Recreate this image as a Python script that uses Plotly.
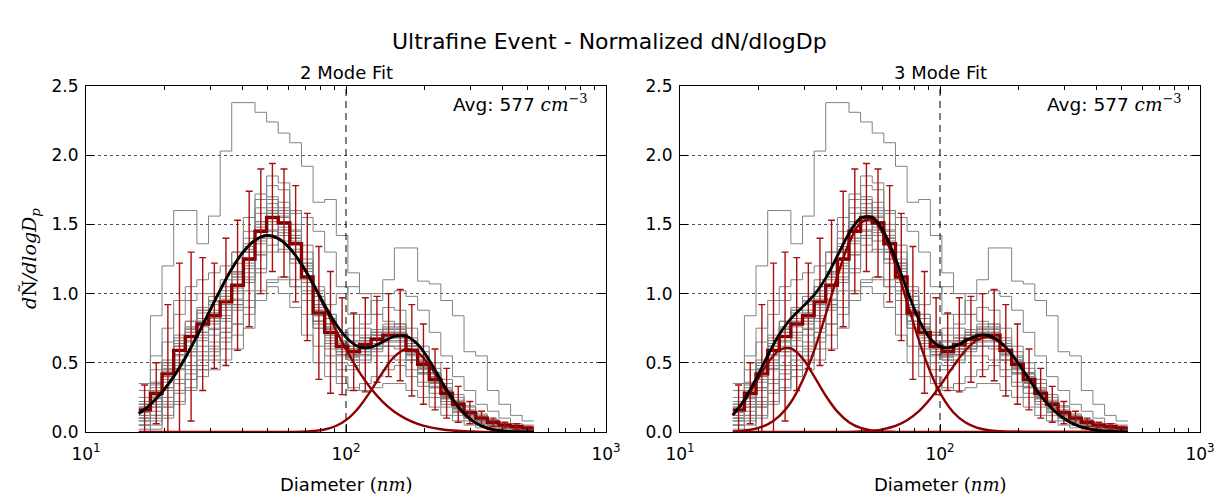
import math
import plotly.graph_objects as go

# ---------------- data ----------------
bin_edges_nm = [15.96, 17.69, 19.61, 21.74, 24.09, 26.70, 29.60, 32.81, 36.35, 40.30,
                44.67, 49.51, 54.87, 60.80, 67.41, 74.71, 82.79, 91.78, 101.7, 112.7,
                124.9, 138.5, 153.5, 170.1, 188.6, 209.0, 231.6, 256.8, 284.5, 315.4,
                349.6, 387.4, 429.5, 475.9, 527.6]

mean_norm = [0.16, 0.28, 0.42, 0.59, 0.69, 0.78, 0.84, 0.94, 1.06, 1.25,
             1.45, 1.55, 1.51, 1.36, 1.12, 0.86, 0.72, 0.62, 0.58, 0.63,
             0.67, 0.70, 0.70, 0.59, 0.49, 0.38, 0.28, 0.20, 0.14, 0.10,
             0.07, 0.05, 0.04, 0.03]
std_norm = [0.18, 0.22, 0.50, 0.63, 0.61, 0.48, 0.38, 0.46, 0.47, 0.49,
            0.45, 0.39, 0.39, 0.42, 0.46, 0.48, 0.44, 0.35, 0.28, 0.34,
            0.31, 0.30, 0.33, 0.33, 0.29, 0.22, 0.18, 0.13, 0.08, 0.05,
            0.03, 0.02, 0.02, 0.01]

sample_01 = [0.30, 0.84, 1.20, 1.60, 1.60, 1.36, 1.56, 2.03, 2.38, 2.38, 2.31, 2.24, 2.16, 2.09, 1.92, 1.66, 1.68, 1.42, 1.15, 1.00, 0.85, 0.80, 0.75, 0.62, 0.50, 0.40, 0.28, 0.20, 0.14, 0.10, 0.06, 0.04, 0.03, 0.02]
sample_02 = [0.05, 0.12, 0.20, 0.30, 0.38, 0.45, 0.52, 0.60, 0.70, 0.85, 1.00, 1.10, 1.12, 1.05, 0.95, 0.90, 0.92, 1.00, 1.05, 1.00, 1.00, 1.10, 1.33, 1.33, 1.09, 1.07, 0.95, 0.84, 0.58, 0.55, 0.30, 0.20, 0.12, 0.08]
sample_03 = [0.00, 0.05, 0.12, 0.22, 0.30, 0.40, 0.45, 0.52, 0.60, 0.75, 0.95, 1.05, 1.00, 0.90, 0.70, 0.50, 0.40, 0.35, 0.30, 0.35, 0.40, 0.45, 0.48, 0.40, 0.33, 0.25, 0.18, 0.12, 0.08, 0.05, 0.03, 0.02, 0.01, 0.00]
sample_04 = [0.20, 0.35, 0.50, 0.68, 0.80, 0.90, 0.98, 1.10, 1.30, 1.55, 1.72, 1.70, 1.55, 1.30, 1.00, 0.75, 0.60, 0.50, 0.48, 0.52, 0.58, 0.62, 0.60, 0.52, 0.42, 0.32, 0.22, 0.15, 0.10, 0.07, 0.05, 0.03, 0.02, 0.01]
sample_05 = [0.10, 0.20, 0.32, 0.48, 0.58, 0.68, 0.75, 0.82, 0.92, 1.08, 1.28, 1.42, 1.48, 1.42, 1.25, 1.02, 0.85, 0.72, 0.65, 0.68, 0.72, 0.74, 0.72, 0.62, 0.52, 0.42, 0.30, 0.22, 0.15, 0.10, 0.07, 0.05, 0.03, 0.02]
sample_06 = [0.35, 0.55, 0.75, 0.95, 1.05, 1.10, 1.15, 1.20, 1.30, 1.40, 1.50, 1.45, 1.30, 1.10, 0.85, 0.62, 0.50, 0.45, 0.45, 0.50, 0.55, 0.55, 0.52, 0.45, 0.36, 0.28, 0.20, 0.14, 0.10, 0.06, 0.04, 0.03, 0.02, 0.01]
sample_07 = [0.15, 0.25, 0.40, 0.55, 0.65, 0.72, 0.80, 0.92, 1.05, 1.22, 1.40, 1.58, 1.60, 1.45, 1.20, 0.92, 0.75, 0.62, 0.55, 0.58, 0.62, 0.68, 0.68, 0.58, 0.48, 0.36, 0.26, 0.18, 0.12, 0.08, 0.06, 0.04, 0.03, 0.02]
sample_08 = [0.08, 0.15, 0.25, 0.38, 0.48, 0.58, 0.65, 0.75, 0.88, 1.02, 1.18, 1.30, 1.32, 1.25, 1.08, 0.88, 0.78, 0.72, 0.70, 0.78, 0.85, 0.90, 0.88, 0.75, 0.62, 0.50, 0.38, 0.27, 0.19, 0.13, 0.09, 0.06, 0.04, 0.03]
sample_09 = [0.05, 0.12, 0.22, 0.35, 0.45, 0.55, 0.62, 0.72, 0.95, 1.30, 1.62, 1.85, 1.80, 1.60, 1.30, 0.98, 0.75, 0.60, 0.52, 0.55, 0.60, 0.62, 0.62, 0.52, 0.42, 0.32, 0.24, 0.16, 0.11, 0.08, 0.05, 0.04, 0.03, 0.02]
sample_10 = [0.02, 0.08, 0.18, 0.30, 0.42, 0.52, 0.60, 0.68, 0.78, 0.90, 1.02, 1.08, 1.10, 1.05, 0.95, 0.80, 0.70, 0.62, 0.60, 0.65, 0.70, 0.75, 0.78, 0.68, 0.58, 0.46, 0.35, 0.25, 0.18, 0.12, 0.08, 0.05, 0.04, 0.03]
sample_11 = [0.05, 0.10, 0.18, 0.28, 0.38, 0.48, 0.55, 0.65, 0.78, 0.95, 1.15, 1.35, 1.50, 1.58, 1.55, 1.45, 1.30, 1.05, 0.85, 0.75, 0.72, 0.72, 0.70, 0.60, 0.48, 0.36, 0.25, 0.18, 0.12, 0.08, 0.05, 0.03, 0.02, 0.01]
sample_12 = [0.20, 0.32, 0.48, 0.62, 0.72, 0.80, 0.88, 0.98, 1.12, 1.30, 1.48, 1.60, 1.58, 1.40, 1.10, 0.80, 0.55, 0.40, 0.32, 0.30, 0.32, 0.35, 0.35, 0.30, 0.25, 0.18, 0.12, 0.08, 0.05, 0.03, 0.02, 0.01, 0.01, 0.00]
sample_13 = [0.25, 0.45, 0.65, 0.85, 0.95, 1.00, 1.00, 1.05, 1.15, 1.30, 1.45, 1.50, 1.42, 1.25, 1.00, 0.75, 0.62, 0.55, 0.55, 0.62, 0.68, 0.72, 0.72, 0.62, 0.50, 0.40, 0.30, 0.21, 0.15, 0.10, 0.07, 0.05, 0.04, 0.03]
sample_14 = [0.10, 0.18, 0.30, 0.45, 0.55, 0.62, 0.70, 0.80, 0.92, 1.10, 1.28, 1.40, 1.38, 1.22, 1.00, 0.80, 0.72, 0.70, 0.75, 0.85, 0.95, 1.00, 1.02, 0.98, 0.88, 0.72, 0.55, 0.40, 0.30, 0.20, 0.15, 0.10, 0.06, 0.05]
sample_15 = [0.00, 0.02, 0.10, 0.20, 0.32, 0.45, 0.58, 0.72, 0.90, 1.15, 1.38, 1.52, 1.50, 1.38, 1.18, 0.95, 0.78, 0.65, 0.58, 0.60, 0.62, 0.65, 0.65, 0.55, 0.45, 0.36, 0.27, 0.19, 0.13, 0.09, 0.06, 0.04, 0.03, 0.02]
sample_16 = [0.18, 0.30, 0.45, 0.62, 0.75, 0.88, 0.95, 1.05, 1.22, 1.45, 1.68, 1.78, 1.75, 1.60, 1.35, 1.05, 0.85, 0.70, 0.62, 0.66, 0.70, 0.72, 0.70, 0.58, 0.46, 0.35, 0.25, 0.17, 0.12, 0.08, 0.05, 0.04, 0.03, 0.02]
sample_17 = [0.12, 0.24, 0.38, 0.52, 0.62, 0.72, 0.80, 0.90, 1.02, 1.20, 1.40, 1.62, 1.66, 1.50, 1.22, 0.92, 0.76, 0.64, 0.60, 0.66, 0.70, 0.74, 0.74, 0.62, 0.52, 0.40, 0.30, 0.21, 0.15, 0.10, 0.07, 0.05, 0.04, 0.03]
sample_18 = [0.22, 0.34, 0.50, 0.66, 0.76, 0.86, 0.92, 1.00, 1.12, 1.32, 1.52, 1.60, 1.52, 1.32, 1.05, 0.80, 0.66, 0.58, 0.55, 0.58, 0.62, 0.66, 0.66, 0.56, 0.46, 0.36, 0.26, 0.18, 0.12, 0.09, 0.06, 0.04, 0.03, 0.02]
sample_19 = [0.14, 0.26, 0.44, 0.62, 0.74, 0.82, 0.86, 0.96, 1.10, 1.30, 1.50, 1.65, 1.62, 1.46, 1.18, 0.90, 0.74, 0.66, 0.62, 0.68, 0.72, 0.76, 0.76, 0.64, 0.54, 0.42, 0.31, 0.22, 0.15, 0.11, 0.08, 0.06, 0.04, 0.03]
sample_20 = [0.10, 0.22, 0.36, 0.50, 0.60, 0.70, 0.78, 0.88, 1.00, 1.18, 1.36, 1.46, 1.44, 1.30, 1.08, 0.84, 0.70, 0.60, 0.56, 0.60, 0.64, 0.68, 0.68, 0.57, 0.47, 0.37, 0.27, 0.19, 0.13, 0.09, 0.06, 0.05, 0.03, 0.02]
sample_21 = [0.18, 0.30, 0.46, 0.64, 0.72, 0.80, 0.86, 0.98, 1.14, 1.36, 1.58, 1.68, 1.60, 1.40, 1.12, 0.84, 0.68, 0.58, 0.54, 0.60, 0.66, 0.70, 0.70, 0.58, 0.47, 0.36, 0.26, 0.18, 0.13, 0.09, 0.06, 0.04, 0.03, 0.02]
sample_22 = [0.08, 0.18, 0.32, 0.46, 0.58, 0.66, 0.74, 0.84, 0.96, 1.12, 1.30, 1.42, 1.46, 1.40, 1.22, 0.98, 0.82, 0.70, 0.66, 0.70, 0.74, 0.78, 0.78, 0.66, 0.55, 0.43, 0.32, 0.23, 0.16, 0.11, 0.08, 0.06, 0.04, 0.03]
sample_23 = [0.20, 0.36, 0.52, 0.70, 0.80, 0.88, 0.94, 1.02, 1.16, 1.34, 1.52, 1.58, 1.50, 1.30, 1.02, 0.78, 0.64, 0.56, 0.52, 0.56, 0.60, 0.62, 0.62, 0.52, 0.43, 0.33, 0.24, 0.17, 0.12, 0.08, 0.06, 0.04, 0.03, 0.02]
sample_24 = [0.12, 0.22, 0.40, 0.56, 0.66, 0.76, 0.82, 0.92, 1.04, 1.24, 1.46, 1.58, 1.56, 1.42, 1.16, 0.88, 0.72, 0.62, 0.60, 0.66, 0.70, 0.72, 0.72, 0.62, 0.51, 0.40, 0.29, 0.21, 0.15, 0.10, 0.07, 0.05, 0.04, 0.03]

# fitted mode curves, read at the bin edges
fit2_mode1 = [0.132, 0.199, 0.288, 0.400, 0.536, 0.692, 0.858, 1.025, 1.178, 1.302, 1.386, 1.420, 1.399, 1.327, 1.211, 1.064, 0.899, 0.731, 0.573, 0.431, 0.313, 0.218, 0.146, 0.095, 0.059, 0.035, 0.020, 0.011, 0.006, 0.003, 0.001, 0.001, 0.0, 0.0, 0.0]
fit2_mode2 = [0.0, 0.0, 0.0, 0.0, 0.0, 0.0, 0.0, 0.0, 0.0, 0.0, 0.0, 0.0, 0.0, 0.001, 0.002, 0.007, 0.018, 0.045, 0.097, 0.183, 0.301, 0.433, 0.544, 0.598, 0.575, 0.484, 0.356, 0.229, 0.129, 0.063, 0.027, 0.010, 0.003, 0.001, 0.0]
fit3_mode1 = [0.119, 0.223, 0.359, 0.496, 0.591, 0.604, 0.532, 0.402, 0.262, 0.147, 0.071, 0.029, 0.010, 0.003, 0.001, 0.0, 0.0, 0.0, 0.0, 0.0, 0.0, 0.0, 0.0, 0.0, 0.0, 0.0, 0.0, 0.0, 0.0, 0.0, 0.0, 0.0, 0.0, 0.0, 0.0]
fit3_mode2 = [0.004, 0.010, 0.025, 0.055, 0.114, 0.215, 0.372, 0.588, 0.850, 1.125, 1.363, 1.511, 1.532, 1.422, 1.208, 0.939, 0.667, 0.434, 0.259, 0.141, 0.070, 0.032, 0.013, 0.005, 0.002, 0.001, 0.0, 0.0, 0.0, 0.0, 0.0, 0.0, 0.0, 0.0, 0.0]
fit3_mode3 = [0.0, 0.0, 0.0, 0.0, 0.0, 0.0, 0.0, 0.0, 0.0, 0.0, 0.001, 0.004, 0.009, 0.021, 0.044, 0.085, 0.149, 0.240, 0.353, 0.476, 0.587, 0.663, 0.685, 0.647, 0.560, 0.443, 0.321, 0.212, 0.129, 0.072, 0.036, 0.017, 0.007, 0.003, 0.001]

cutoff_nm = 100
avg_conc = 577
y_ticks = [0.0, 0.5, 1.0, 1.5, 2.0, 2.5]
x_major = [10, 100, 1000]
x_major_text = ["10<sup>1</sup>", "10<sup>2</sup>", "10<sup>3</sup>"]
x_minor = [20, 30, 40, 50, 60, 70, 80, 90, 200, 300, 400, 500, 600, 700, 800, 900]

samples = [sample_01, sample_02, sample_03, sample_04, sample_05, sample_06, sample_07, sample_08,
           sample_09, sample_10, sample_11, sample_12, sample_13, sample_14, sample_15, sample_16,
           sample_17, sample_18, sample_19, sample_20, sample_21, sample_22, sample_23, sample_24]

# ---------------- figure ----------------
W, H = 1219, 499
FONT = "DejaVu Sans, Liberation Sans, sans-serif"
SERIF = "DejaVu Serif, Liberation Serif, serif"
DARKRED = "#8b0000"
centers = [math.sqrt(bin_edges_nm[i] * bin_edges_nm[i + 1]) for i in range(len(mean_norm))]

fig = go.Figure()


def step_y(vals):
    return list(vals) + [vals[-1]]


def add_panel(xa, ya, modes):
    for s in samples:
        fig.add_trace(go.Scatter(x=bin_edges_nm, y=step_y(s), mode="lines", line_shape="hv",
                                 line=dict(color="rgb(130,130,130)", width=1),
                                 xaxis=xa, yaxis=ya, hoverinfo="skip", showlegend=False))
    fig.add_trace(go.Scatter(x=[cutoff_nm, cutoff_nm], y=[0, 2.5], mode="lines",
                             line=dict(color="black", width=1, dash="7px,5px"),
                             xaxis=xa, yaxis=ya, hoverinfo="skip", showlegend=False))
    fig.add_trace(go.Scatter(x=bin_edges_nm, y=step_y(mean_norm), mode="lines", line_shape="hv",
                             line=dict(color=DARKRED, width=3.4),
                             xaxis=xa, yaxis=ya, showlegend=False))
    fig.add_trace(go.Scatter(x=centers, y=mean_norm, mode="markers",
                             marker=dict(size=2, color="rgba(0,0,0,0)"),
                             error_y=dict(type="data", array=std_norm, color="#a81010",
                                          thickness=1.4, width=3.5),
                             xaxis=xa, yaxis=ya, showlegend=False))
    for m in modes:
        fig.add_trace(go.Scatter(x=bin_edges_nm, y=m, mode="lines", line_shape="spline",
                                 line=dict(color=DARKRED, width=2.4),
                                 xaxis=xa, yaxis=ya, showlegend=False))
    total = [sum(v) for v in zip(*modes)]
    fig.add_trace(go.Scatter(x=bin_edges_nm, y=total, mode="lines", line_shape="spline",
                             line=dict(color="black", width=2.8),
                             xaxis=xa, yaxis=ya, showlegend=False))


add_panel("x", "y", [fit2_mode1, fit2_mode2])
add_panel("x2", "y2", [fit3_mode1, fit3_mode2, fit3_mode3])

y_dom = [(H - 432) / H, (H - 86) / H]
left_dom = [86 / W, 606 / W]
right_dom = [680 / W, 1200 / W]

xcommon = dict(type="log", range=[1, 3], showline=True, linecolor="black", linewidth=1.2,
               mirror="ticks", ticks="inside", ticklen=8, tickwidth=1, tickcolor="black",
               tickmode="array", tickvals=x_major, ticktext=x_major_text,
               tickfont=dict(family=FONT, size=17, color="black"), ticklabelstandoff=6,
               showgrid=False, zeroline=False, automargin=False,
               minor=dict(ticks="inside", ticklen=4, tickwidth=1, tickcolor="black",
                          tickmode="array", tickvals=x_minor, showgrid=False))
ycommon = dict(range=[0, 2.5], showline=True, linecolor="black", linewidth=1.2,
               mirror="ticks", ticks="inside", ticklen=8, tickwidth=1, tickcolor="black",
               tickmode="array", tickvals=y_ticks, ticktext=[f"{v:.1f}" for v in y_ticks],
               tickfont=dict(family=FONT, size=17, color="black"), ticklabelstandoff=3,
               showgrid=True, gridcolor="rgba(60,60,60,0.9)", griddash="dot", gridwidth=1,
               zeroline=False, automargin=False)

fig.update_layout(
    width=W, height=H, margin=dict(l=0, r=0, t=0, b=0),
    paper_bgcolor="white", plot_bgcolor="white", showlegend=False,
    xaxis=dict(domain=left_dom, anchor="y", **xcommon),
    yaxis=dict(domain=y_dom, anchor="x", **ycommon),
    xaxis2=dict(domain=right_dom, anchor="y2", **xcommon),
    yaxis2=dict(domain=y_dom, anchor="x2", **ycommon),
)

ann = []
ann.append(dict(text="Ultrafine Event - Normalized dN/dlogDp", x=0.5, y=(H - 42) / H,
                xref="paper", yref="paper", showarrow=False, xanchor="center", yanchor="middle",
                font=dict(family=FONT, size=22, color="black")))
for dom, title in [(left_dom, "2 Mode Fit"), (right_dom, "3 Mode Fit")]:
    cx = (dom[0] + dom[1]) / 2
    ann.append(dict(text=title, x=cx, y=(H - 72) / H, xref="paper", yref="paper", showarrow=False,
                    xanchor="center", yanchor="middle", font=dict(family=FONT, size=18, color="black")))
    ann.append(dict(text="Diameter <span style='font-family:DejaVu Serif'>(<i>nm</i>)</span>",
                    x=cx, y=(H - 484) / H, xref="paper", yref="paper", showarrow=False,
                    xanchor="center", yanchor="middle", font=dict(family=FONT, size=18, color="black")))
    ann.append(dict(text=f"Avg: {avg_conc} <span style='font-family:DejaVu Serif'><i>cm</i><sup>−3</sup></span>",
                    x=dom[1] - 16 / W, y=(H - 103) / H, xref="paper", yref="paper", showarrow=False,
                    xanchor="right", yanchor="middle", font=dict(family=FONT, size=18.5, color="black")))
ann.append(dict(text="<i>d</i>Ñ<i>/dlogD<sub>p</sub></i>", x=30 / W, y=(H - 259) / H,
                xref="paper", yref="paper", showarrow=False, textangle=-90,
                xanchor="center", yanchor="middle", font=dict(family=SERIF, size=19, color="black")))
fig.update_layout(annotations=ann)

fig.write_html("out.html")
